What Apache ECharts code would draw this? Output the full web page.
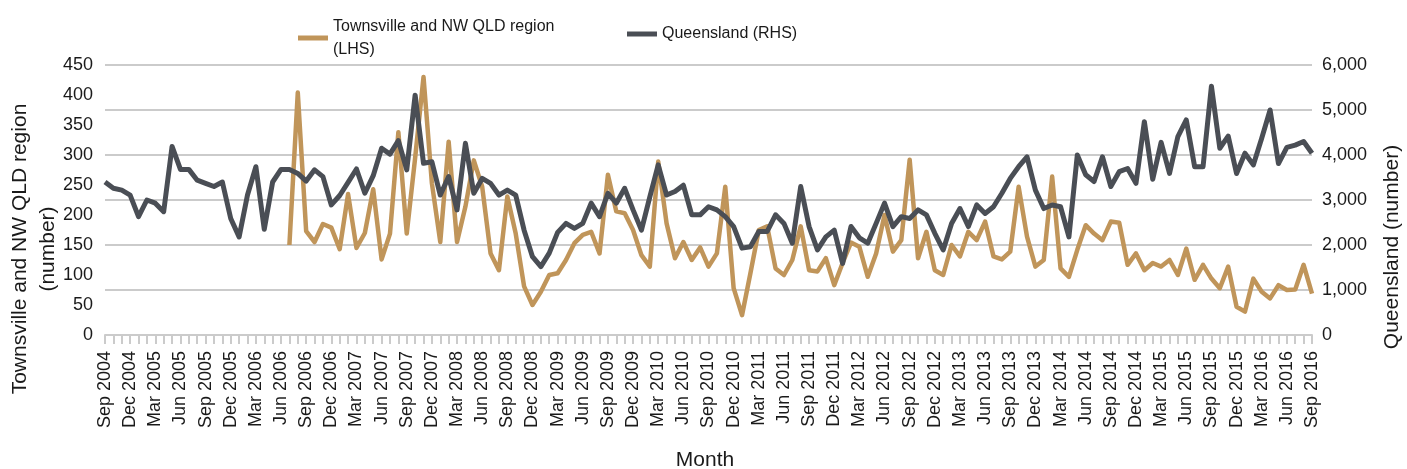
<!DOCTYPE html>
<html>
<head>
<meta charset="utf-8">
<script src="https://cdn.jsdelivr.net/npm/echarts@6/dist/echarts.min.js"></script>
<style>
html,body{margin:0;padding:0;background:#fff;}
#chart{width:1407px;height:469px;}
</style>
</head>
<body>
<div id="chart"></div>
<script>
// Monthly categories Sep 2004 .. Sep 2016
const monthNames = ['Jan','Feb','Mar','Apr','May','Jun','Jul','Aug','Sep','Oct','Nov','Dec'];
const categories = [];
for (let k = 0; k < 145; k++) {
  const m = (8 + k) % 12;
  const y = 2004 + Math.floor((8 + k) / 12);
  categories.push(monthNames[m] + ' ' + y);
}

const seriesNames = ['Townsville and NW QLD region (LHS)', 'Queensland (RHS)'];

const townsville = [
  null,null,null,null,null,null,null,null,null,null,null,null,null,null,null,null,null,null,null,null,null,null,
  150,404,173,155,185,179,143,235,145,170,243,126,169,338,169,295,430,253,155,322,155,214,291,247,136,108,
  231,169,81,50,72,100,103,125,153,167,172,136,267,206,203,175,133,114,289,186,128,155,125,146,
  114,136,247,78,33,103,175,181,111,100,125,181,108,106,128,83,120,154,147,97,136,200,139,158,
  292,128,172,108,100,150,131,172,158,189,131,126,139,247,164,114,125,264,111,97,142,183,169,158,
  189,187,117,136,108,120,114,125,100,144,92,117,94,78,114,47,39,94,72,61,83,75,76,117,69
];

const queensland = [
  3400,3260,3220,3110,2630,3000,2930,2740,4190,3680,3680,3440,3370,3300,3400,2590,2180,3110,3740,2350,
  3400,3680,3680,3590,3420,3670,3520,2890,3100,3390,3690,3150,3540,4150,4020,4320,3670,5330,3815,3850,
  3110,3520,2780,4260,3150,3480,3370,3110,3220,3110,2330,1740,1520,1820,2280,2480,2370,2480,2930,2630,
  3150,2930,3260,2780,2330,3070,3780,3110,3190,3330,2670,2670,2850,2780,2630,2410,1930,1960,2300,2300,
  2670,2480,2040,3300,2410,1890,2180,2330,1590,2410,2160,2040,2480,2930,2410,2630,2590,2780,2670,2260,
  1890,2480,2810,2410,2890,2700,2850,3150,3480,3740,3960,3220,2810,2890,2850,2180,4000,3560,3410,3960,
  3300,3630,3700,3370,4740,3460,4280,3590,4410,4780,3740,3740,5530,4150,4420,3590,4040,3780,4370,5000,
  3810,4170,4220,4300,4040
];

const leftTicks = {min: 0, max: 450, interval: 50};
const rightTicks = {min: 0, max: 6000, interval: 1000};

const FONT = '"Liberation Sans", Arial, sans-serif';
const GOLD = '#C0955A';
const DARK = '#4A4E55';
const GRID = '#CBCBCB';
const TXT = '#1a1a1a';

const chart = echarts.init(document.getElementById('chart'), null, {renderer: 'canvas'});
chart.setOption({
  animation: false,
  backgroundColor: '#fff',
  textStyle: {fontFamily: FONT},
  grid: {left: 105, right: 95, top: 65, bottom: 134, containLabel: false},
  legend: [
    {
      data: [seriesNames[0]], left: 293, top: 10, icon: 'rect', itemWidth: 30, itemHeight: 5, itemGap: 8,
      textStyle: {fontSize: 16, color: TXT, fontFamily: FONT, lineHeight: 23},
      formatter: n => n.replace(' (LHS)', '\n(LHS)')
    },
    {
      data: [seriesNames[1]], left: 622, top: 21, icon: 'rect', itemWidth: 30, itemHeight: 5,
      textStyle: {fontSize: 16, color: TXT, fontFamily: FONT}
    }
  ],
  xAxis: {
    type: 'category', data: categories, boundaryGap: false,
    axisLine: {show: true, lineStyle: {color: GRID, width: 2}},
    axisTick: {show: true, interval: 0, length: 9, lineStyle: {color: GRID, width: 2}},
    axisLabel: {interval: 2, rotate: 90, fontSize: 18, color: TXT, margin: 16, fontFamily: FONT},
    splitLine: {show: false}
  },
  yAxis: [
    {
      type: 'value', min: leftTicks.min, max: leftTicks.max, interval: leftTicks.interval,
      axisLine: {show: false}, axisTick: {show: false}, splitLine: {show: false},
      axisLabel: {fontSize: 18, color: TXT, margin: 12, fontFamily: FONT}
    },
    {
      type: 'value', min: rightTicks.min, max: rightTicks.max, interval: rightTicks.interval, position: 'right',
      axisLine: {show: false}, axisTick: {show: false},
      splitLine: {show: true, lineStyle: {color: GRID, width: 2}},
      axisLabel: {fontSize: 18, color: TXT, margin: 10, fontFamily: FONT,
        formatter: v => v.toLocaleString('en-US')}
    }
  ],
  graphic: [
    {type: 'text', x: 34, y: 249, rotation: Math.PI / 2,
      style: {text: 'Townsville and NW QLD region\n(number)', fontSize: 21, lineHeight: 28, fontFamily: FONT,
        fill: TXT, align: 'center', verticalAlign: 'middle'}},
    {type: 'text', x: 1392, y: 247, rotation: Math.PI / 2,
      style: {text: 'Queensland (number)', fontSize: 21, fontFamily: FONT, fill: TXT,
        align: 'center', verticalAlign: 'middle'}},
    {type: 'text', x: 705, y: 460,
      style: {text: 'Month', fontSize: 21, fontFamily: FONT, fill: TXT, align: 'center', verticalAlign: 'middle'}}
  ],
  series: [
    {name: seriesNames[0], type: 'line', yAxisIndex: 0, data: townsville, showSymbol: false, symbol: 'none',
      connectNulls: false, lineStyle: {color: GOLD, width: 4.5, join: 'round'}, itemStyle: {color: GOLD}},
    {name: seriesNames[1], type: 'line', yAxisIndex: 1, data: queensland, showSymbol: false, symbol: 'none',
      lineStyle: {color: DARK, width: 5, join: 'round'}, itemStyle: {color: DARK}}
  ]
});
</script>
</body>
</html>
